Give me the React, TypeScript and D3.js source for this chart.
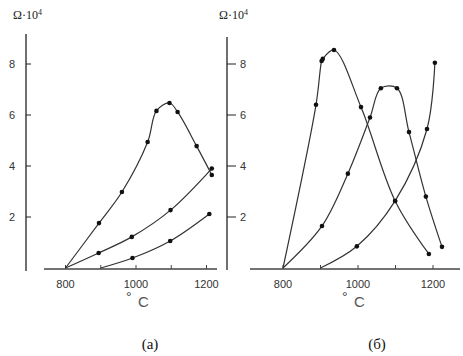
import React from "react";
import * as d3 from "d3";

const xTicks = [800, 900, 1000, 1100, 1200];
const xTickLabels = [800, 1000, 1200];
const yTickLabels = [2, 4, 6, 8];

// Panel (а)
const aTopT = [800, 895, 960, 1033, 1058, 1095, 1118, 1172, 1215];
const aTopV = [0, 1.76, 2.98, 4.94, 6.16, 6.47, 6.12, 4.78, 3.65];
const aMidT = [800, 894, 988, 1098, 1215];
const aMidV = [0, 0.59, 1.22, 2.27, 3.9];
const aLowT = [900, 990, 1097, 1208];
const aLowV = [0, 0.39, 1.06, 2.12];

// Panel (б)
const bFirstT = [800, 888, 903, 906, 936, 1008, 1099, 1189];
const bFirstV = [0, 6.4, 8.12, 8.2, 8.55, 6.31, 2.63, 0.55];
const bSecondT = [800, 904, 973, 1032, 1061, 1104, 1136, 1181, 1224];
const bSecondV = [0, 1.65, 3.7, 5.9, 7.05, 7.05, 5.33, 2.8, 0.83];
const bThirdT = [900, 997, 1099, 1184, 1205];
const bThirdV = [0, 0.85, 2.63, 5.45, 8.05];

const W = 463;
const H = 356;

const y = d3.scaleLinear().domain([0, 8]).range([268, 64]);
const xA = d3.scaleLinear().domain([800, 1200]).range([65.5, 206.5]);
const xB = d3.scaleLinear().domain([800, 1200]).range([283, 433]);

const LINE = "#333";
const SANS = "'Liberation Sans', Arial, sans-serif";
const SERIF = "'Liberation Serif', 'Times New Roman', serif";

function Curve({ T, V, x }: { T: number[]; V: number[]; x: d3.ScaleLinear<number, number> }) {
  const pts: [number, number][] = T.map((t, i) => [t, V[i]]);
  const line = d3
    .line<[number, number]>()
    .x((d) => x(d[0]))
    .y((d) => y(d[1]))
    .curve(d3.curveCatmullRom.alpha(0.5));
  return (
    <g>
      <path d={line(pts) || ""} fill="none" stroke={LINE} strokeWidth={1.2} />
      {pts.map((d, i) =>
        d[1] > 0 ? <circle key={i} cx={x(d[0])} cy={y(d[1])} r={2.3} fill="#111" /> : null
      )}
    </g>
  );
}

function DegC({ x }: { x: number }) {
  return (
    <g>
      <text x={x} y={302} fontFamily={SANS} fontSize={14} fill="#444">°</text>
      <text x={x + 12} y={307} fontFamily={SANS} fontSize={15} fill="#555">C</text>
    </g>
  );
}

export default function App() {
  return (
    <svg width={W} height={H} style={{ display: "block", position: "absolute", left: 0, top: 0 }}>
      <rect width={W} height={H} fill="#fff" />

      {/* Panel (а) axes */}
      <line x1={26} y1={34} x2={26} y2={271} stroke="#222" strokeWidth={1.3} />
      {yTickLabels.map((v) => (
        <g key={"ya" + v}>
          <line x1={26} x2={31} y1={y(v)} y2={y(v)} stroke="#222" strokeWidth={1} />
          <text x={12} y={y(v) + 4} fontFamily={SANS} fontSize={11} fill="#333" textAnchor="middle">
            {v}
          </text>
        </g>
      ))}
      <line x1={44} x2={217} y1={269} y2={269} stroke="#444" strokeWidth={1.3} />
      {xTicks.map((t) => (
        <line key={"xta" + t} x1={xA(t)} x2={xA(t)} y1={269} y2={265} stroke="#444" strokeWidth={1} />
      ))}
      {xTickLabels.map((t) => (
        <text key={"xla" + t} x={xA(t)} y={288} fontFamily={SANS} fontSize={11} fill="#333" textAnchor="middle">
          {t}
        </text>
      ))}
      <text x={13} y={19} fontFamily={SERIF} fontSize={12} fill="#222">
        Ω·10<tspan fontSize={8} dy={-4}>4</tspan>
      </text>

      {/* Panel (б) axes */}
      <line x1={227} y1={37} x2={227} y2={270} stroke="#222" strokeWidth={1.3} />
      {yTickLabels.map((v) => (
        <g key={"yb" + v}>
          <line x1={227} x2={236} y1={y(v)} y2={y(v)} stroke="#222" strokeWidth={1} />
          <text x={243} y={y(v) + 4} fontFamily={SANS} fontSize={11} fill="#333" textAnchor="middle">
            {v}
          </text>
        </g>
      ))}
      <line x1={250} x2={460} y1={269} y2={269} stroke="#444" strokeWidth={1.3} />
      {xTicks.map((t) => (
        <line key={"xtb" + t} x1={xB(t)} x2={xB(t)} y1={269} y2={265} stroke="#444" strokeWidth={1} />
      ))}
      {xTickLabels.map((t) => (
        <text key={"xlb" + t} x={xB(t)} y={288} fontFamily={SANS} fontSize={11} fill="#333" textAnchor="middle">
          {t}
        </text>
      ))}
      <text x={219} y={19} fontFamily={SERIF} fontSize={12} fill="#222">
        Ω·10<tspan fontSize={8} dy={-4}>4</tspan>
      </text>

      {/* Curves */}
      <Curve T={aTopT} V={aTopV} x={xA} />
      <Curve T={aMidT} V={aMidV} x={xA} />
      <Curve T={aLowT} V={aLowV} x={xA} />
      <Curve T={bFirstT} V={bFirstV} x={xB} />
      <Curve T={bSecondT} V={bSecondV} x={xB} />
      <Curve T={bThirdT} V={bThirdV} x={xB} />

      <DegC x={126} />
      <DegC x={342} />

      <text x={150} y={349} fontFamily={SERIF} fontSize={15} fill="#111" textAnchor="middle">
        (а)
      </text>
      <text x={377} y={349} fontFamily={SERIF} fontSize={15} fill="#111" textAnchor="middle">
        (б)
      </text>
    </svg>
  );
}
